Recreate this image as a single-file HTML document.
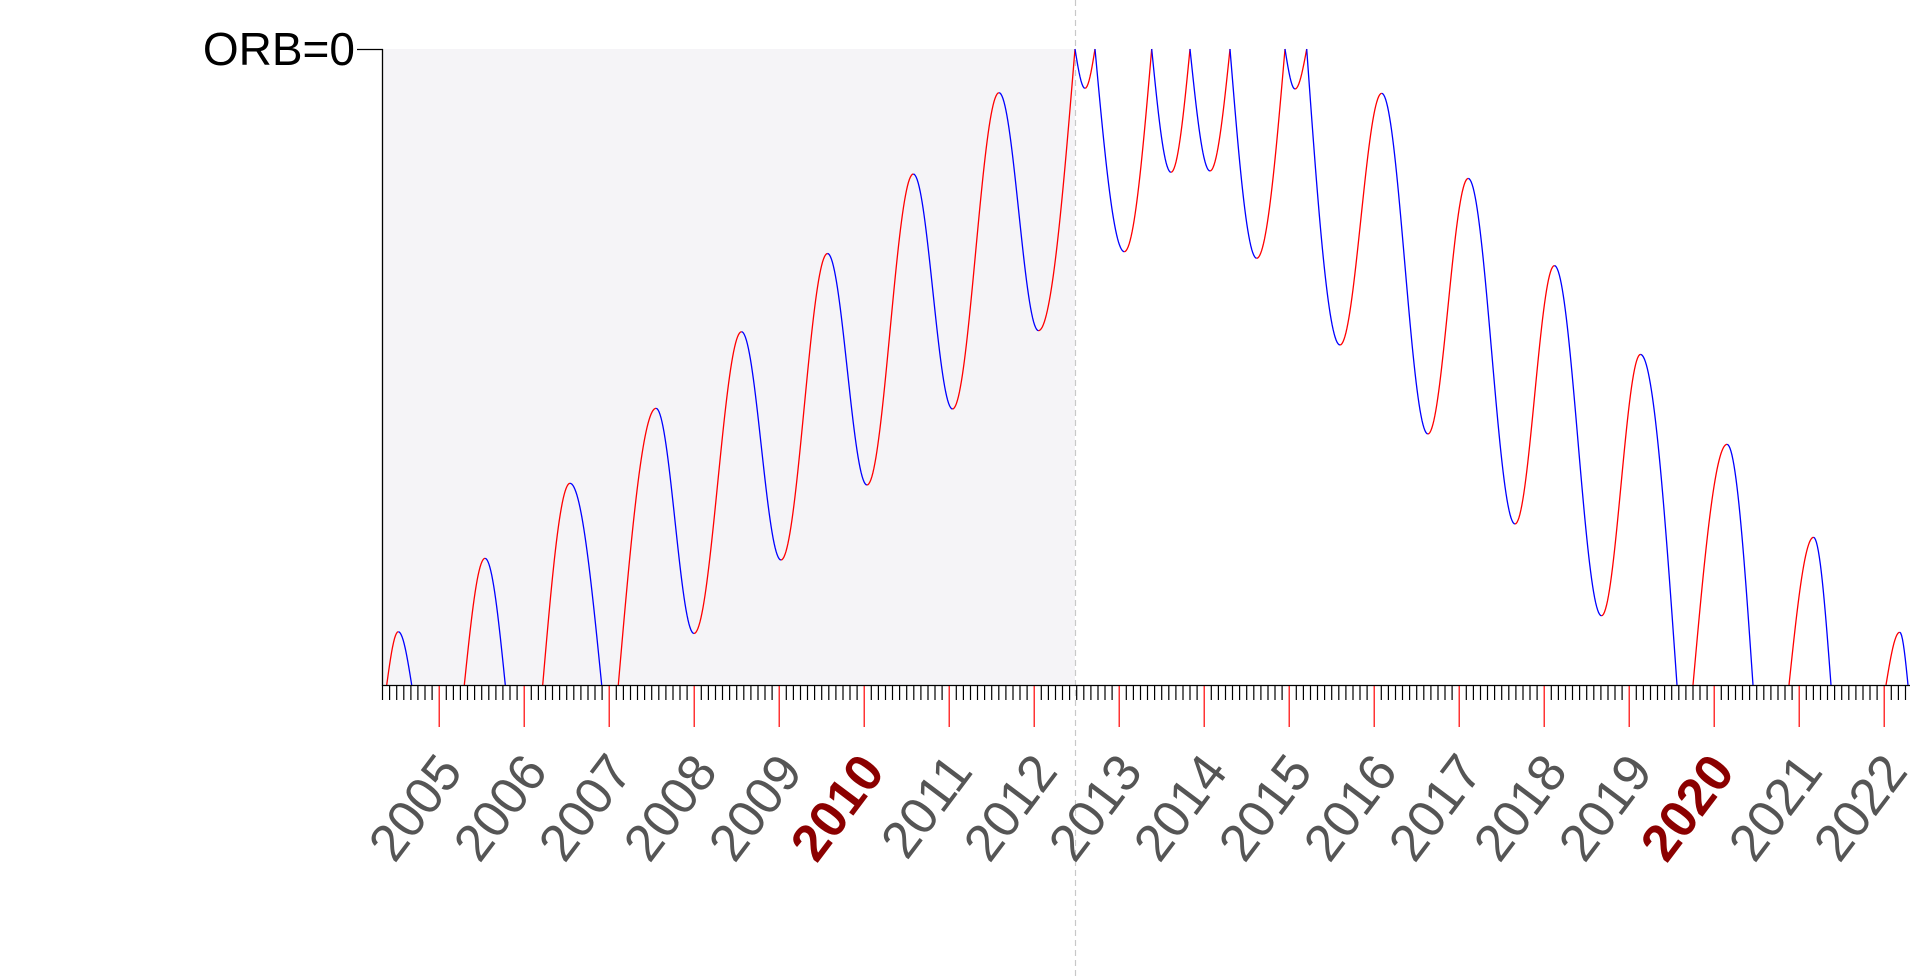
<!DOCTYPE html>
<html><head><meta charset="utf-8">
<style>
html,body{margin:0;padding:0;background:#fff;}
svg{display:block;}
</style></head>
<body>
<svg id="s" width="1912" height="979" viewBox="0 0 1912 979" xmlns="http://www.w3.org/2000/svg">
<rect x="0" y="0" width="1912" height="979" fill="#fff"/>
<rect x="382" y="49" width="693" height="636" fill="#f5f4f7"/>
<line x1="1075.5" y1="0" x2="1075.5" y2="979" stroke="#c8c8c8" stroke-width="1.2" stroke-dasharray="6,4"/>
<g id="curve" fill="none" stroke-width="1.3"></g>
<line x1="382.5" y1="49" x2="382.5" y2="686" stroke="#000" stroke-width="1.3"/>
<line x1="357" y1="49.5" x2="383" y2="49.5" stroke="#000" stroke-width="1.3"/>
<text x="355" y="65" text-anchor="end" font-family="Liberation Sans, Arial, sans-serif" font-size="46" fill="#000">ORB=0</text>
<g id="ticks"></g>
<line x1="382" y1="685.5" x2="1910" y2="685.5" stroke="#000" stroke-width="1.3"/>
<g id="labels"></g>
</svg>
<script>
(function(){
var NS="http://www.w3.org/2000/svg";
var Y0=685;
var P=[
[386.7,Y0,'S'],[398.3,631.7,'E'],[411.7,Y0,'S'],null,
[464.3,Y0,'S'],[485,558.3,'E'],[505.3,Y0,'S'],null,
[542.7,Y0,'S'],[570,483.3,'E'],[601.7,Y0,'S'],null,
[618.3,Y0,'S'],[656,408.3,'E'],[694,633.5,'E'],[741.5,331.7,'E'],[781,560,'E'],
[827.5,253.5,'E'],[867,485,'E'],[913.3,174,'E'],[952.5,409,'E'],[999,92.7,'E'],
[1038.5,330.7,'E'],[1075,49,'S'],[1085,88.3,'E'],[1095,49,'S'],[1124.3,251.7,'E'],
[1151.7,49,'S'],[1171,172.3,'E'],[1190,49,'S'],[1210,171,'E'],[1230,49,'S'],
[1256.7,258.3,'E'],[1285,49,'S'],[1295,89,'E'],[1306.7,49,'S'],[1340,345,'E'],
[1381.7,93.3,'E'],[1427.9,434,'E'],[1468.2,178.4,'E'],[1515,524,'E'],[1554.4,265.6,'E'],
[1601.5,615.8,'E'],[1640.5,354.4,'E'],[1677,Y0,'S'],null,
[1693,Y0,'S'],[1727,444.3,'E'],[1753,Y0,'S'],null,
[1789,Y0,'S'],[1813.5,537.3,'E'],[1831,Y0,'S'],null,
[1886,Y0,'S'],[1899.7,632.2,'E'],[1908,Y0,'S']
];
var g=document.getElementById('curve');
function ease(a,b,u){
  if(a[2]=='E'&&b[2]=='E') return (1-Math.cos(Math.PI*u))/2;
  if(a[2]=='E'&&b[2]=='S') return 1-Math.cos(Math.PI*u/2);
  if(a[2]=='S'&&b[2]=='E') return Math.sin(Math.PI*u/2);
  return u;
}
for(var i=0;i<P.length-1;i++){
  var a=P[i],b=P[i+1];
  if(!a||!b) continue;
  var n=Math.max(4,Math.ceil((b[0]-a[0])));
  var d="";
  for(var k=0;k<=n;k++){
    var u=k/n;
    var x=a[0]+(b[0]-a[0])*u;
    var y=a[1]+(b[1]-a[1])*ease(a,b,u);
    d+=(k?"L":"M")+x.toFixed(2)+","+y.toFixed(2);
  }
  var p=document.createElementNS(NS,'path');
  p.setAttribute('d',d);
  p.setAttribute('stroke', b[1]<a[1] ? '#ff0000' : '#0000ff');
  g.appendChild(p);
}
var t=document.getElementById('ticks');
var x2005=439.2, py=85.0;
for(var m=-8;m<=12*18;m++){
  var x=x2005+m*py/12;
  if(x<382||x>1910) continue;
  var l=document.createElementNS(NS,'line');
  l.setAttribute('x1',x.toFixed(1));l.setAttribute('x2',x.toFixed(1));
  l.setAttribute('y1',685);
  if(m%12==0){l.setAttribute('y2',727);l.setAttribute('stroke','#ff0000');}
  else{l.setAttribute('y2',700);l.setAttribute('stroke','#000');}
  l.setAttribute('stroke-width','1.2');
  t.appendChild(l);
}
var L=document.getElementById('labels');
for(var yr=2005;yr<=2022;yr++){
  var tx=x2005+(yr-2005)*py;
  var bold=(yr%10==0);
  var ex=tx+(bold?22:25), ey=772;
  var e=document.createElementNS(NS,'text');
  e.setAttribute('x',ex.toFixed(1));e.setAttribute('y',ey);
  e.setAttribute('text-anchor','end');
  e.setAttribute('font-family','Liberation Sans, Arial, sans-serif');
  e.setAttribute('font-size','52');
  e.setAttribute('fill',bold?'#8b0000':'#555555');
  if(bold) e.setAttribute('font-weight','bold');
  e.setAttribute('transform','rotate(-53 '+ex.toFixed(1)+' '+ey+')');
  e.textContent=String(yr);
  L.appendChild(e);
}
})();
</script>
</body></html>
